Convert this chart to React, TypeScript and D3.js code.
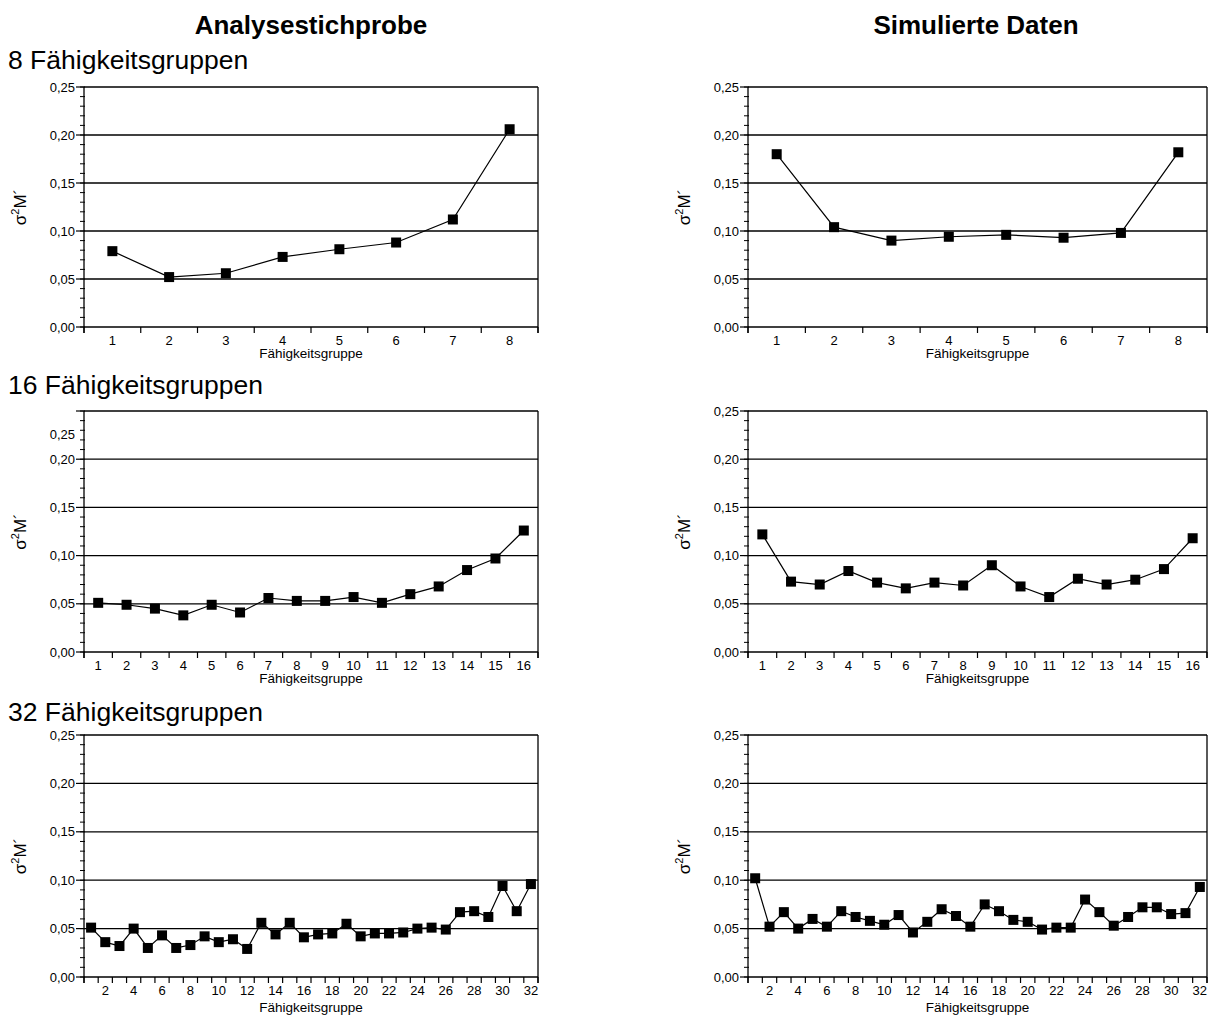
import React from "react";
import * as d3 from "d3";

const groups8 = [1, 2, 3, 4, 5, 6, 7, 8];
const groups16 = [1, 2, 3, 4, 5, 6, 7, 8, 9, 10, 11, 12, 13, 14, 15, 16];
const groups32 = [
  1, 2, 3, 4, 5, 6, 7, 8, 9, 10, 11, 12, 13, 14, 15, 16,
  17, 18, 19, 20, 21, 22, 23, 24, 25, 26, 27, 28, 29, 30, 31, 32,
];

const analyse8 = [0.079, 0.052, 0.056, 0.073, 0.081, 0.088, 0.112, 0.206];
const simul8 = [0.18, 0.104, 0.09, 0.094, 0.096, 0.093, 0.098, 0.182];

const analyse16 = [
  0.051, 0.049, 0.045, 0.038, 0.049, 0.041, 0.056, 0.053,
  0.053, 0.057, 0.051, 0.06, 0.068, 0.085, 0.097, 0.126,
];
const simul16 = [
  0.122, 0.073, 0.07, 0.084, 0.072, 0.066, 0.072, 0.069,
  0.09, 0.068, 0.057, 0.076, 0.07, 0.075, 0.086, 0.118,
];

const analyse32 = [
  0.051, 0.036, 0.032, 0.05, 0.03, 0.043, 0.03, 0.033,
  0.042, 0.036, 0.039, 0.029, 0.056, 0.044, 0.056, 0.041,
  0.044, 0.045, 0.055, 0.042, 0.045, 0.045, 0.046, 0.05,
  0.051, 0.049, 0.067, 0.068, 0.062, 0.094, 0.068, 0.096,
];
const simul32 = [
  0.102, 0.052, 0.067, 0.05, 0.06, 0.052, 0.068, 0.062,
  0.058, 0.054, 0.064, 0.046, 0.057, 0.07, 0.063, 0.052,
  0.075, 0.068, 0.059, 0.057, 0.049, 0.051, 0.051, 0.08,
  0.067, 0.053, 0.062, 0.072, 0.072, 0.065, 0.066, 0.093,
];

const yTicks = [0, 0.05, 0.1, 0.15, 0.2, 0.25];
const gridValues = [0.05, 0.1, 0.15, 0.2];
const columnTitles = ["Analysestichprobe", "Simulierte Daten"];
const rowTitles = ["8 Fähigkeitsgruppen", "16 Fähigkeitsgruppen", "32 Fähigkeitsgruppen"];
const xTitle = "Fähigkeitsgruppe";

const FONT = "'Liberation Sans', Arial, sans-serif";
const fmt = (v: number) => d3.format(".2f")(v).replace(".", ",");

type PanelProps = {
  groups: number[];
  values: number[];
  left: number;
  right: number;
  top: number;
  bottom: number;
  evenLabelsOnly?: boolean;
  topLabelDy?: number;
};

function Panel({ groups, values, left, right, top, bottom, evenLabelsOnly, topLabelDy = 0 }: PanelProps) {
  const x = d3.scaleBand<number>().domain(groups).range([left, right]).padding(0);
  const y = d3.scaleLinear().domain([0, 0.25]).range([bottom, top]);
  const minor = d3.range(0, 0.2501, 0.01);
  const cx = (g: number) => (x(g) as number) + x.bandwidth() / 2;
  const line = d3
    .line<number>()
    .x((_, i) => cx(groups[i]))
    .y((v) => y(v));
  const boundaries = groups.map((g) => x(g) as number).concat([right]);
  const labelY = bottom + 18;
  const titleY = evenLabelsOnly ? bottom + 35 : bottom + 31;
  const midY = (top + bottom) / 2;
  return (
    <g>
      {gridValues.map((v) => (
        <line key={"g" + v} x1={left} x2={right} y1={y(v)} y2={y(v)} stroke="#000" strokeWidth={1.3} />
      ))}
      <line x1={left} x2={right} y1={top} y2={top} stroke="#000" strokeWidth={1.3} />
      <line x1={right} x2={right} y1={top} y2={bottom + 6} stroke="#000" strokeWidth={1.3} />
      <line x1={left} x2={right} y1={bottom} y2={bottom} stroke="#000" strokeWidth={1.3} />
      <line x1={left} x2={left} y1={top} y2={bottom + 6} stroke="#000" strokeWidth={1.3} />
      {minor.map((v) => (
        <line key={"m" + v} x1={left - 4} x2={left + 1} y1={y(v)} y2={y(v)} stroke="#000" strokeWidth={1} />
      ))}
      {yTicks.map((v) => (
        <line key={"t" + v} x1={left - 8} x2={left} y1={y(v)} y2={y(v)} stroke="#000" strokeWidth={1.2} />
      ))}
      {yTicks.map((v, i) => (
        <text
          key={"l" + v}
          x={left - 9}
          y={y(v) + (i === yTicks.length - 1 ? topLabelDy : 0)}
          dy="0.35em"
          textAnchor="end"
          fontSize={13}
          fontFamily={FONT}
          fill="#000"
        >
          {fmt(v)}
        </text>
      ))}
      {boundaries.map((b, i) => (
        <line key={"b" + i} x1={b} x2={b} y1={bottom} y2={bottom + 6} stroke="#000" strokeWidth={1.2} />
      ))}
      {groups.map((g) =>
        evenLabelsOnly && g % 2 === 1 ? null : (
          <text
            key={"x" + g}
            x={cx(g)}
            y={labelY}
            textAnchor="middle"
            fontSize={13}
            fontFamily={FONT}
            fill="#000"
          >
            {g}
          </text>
        )
      )}
      <text x={(left + right) / 2} y={titleY} textAnchor="middle" fontSize={13.5} fontFamily={FONT} fill="#000">
        {xTitle}
      </text>
      <text
        transform={`translate(${left - 58},${midY}) rotate(-90)`}
        textAnchor="middle"
        fontSize={17}
        fontFamily={FONT}
        fill="#000"
      >
        σ<tspan dy="-7" fontSize={11}>2</tspan>
        <tspan dy="7">M´</tspan>
      </text>
      <path d={line(values) || ""} fill="none" stroke="#000" strokeWidth={1.2} />
      {values.map((v, i) => (
        <rect key={"p" + i} x={cx(groups[i]) - 5} y={y(v) - 5} width={10} height={10} fill="#000" />
      ))}
    </g>
  );
}

export default function App() {
  const cols = [
    { left: 84, right: 538 },
    { left: 748, right: 1207 },
  ];
  const rows = [
    { top: 87, bottom: 327 },
    { top: 411, bottom: 652 },
    { top: 735, bottom: 977 },
  ];
  return (
    <svg
      width={1209}
      height={1016}
      viewBox="0 0 1209 1016"
      style={{ position: "absolute", left: 0, top: 0, background: "#fff" }}
    >
      <rect width={1209} height={1016} fill="#fff" />
      <text x={311} y={34} textAnchor="middle" fontSize={26} fontWeight="bold" fontFamily={FONT}>
        {columnTitles[0]}
      </text>
      <text x={976} y={34} textAnchor="middle" fontSize={26} fontWeight="bold" fontFamily={FONT}>
        {columnTitles[1]}
      </text>
      {rowTitles.map((t, i) => (
        <text key={t} x={8} y={[69, 394, 721][i]} fontSize={26.5} fontFamily={FONT}>
          {t}
        </text>
      ))}
      <Panel groups={groups8} values={analyse8} {...cols[0]} {...rows[0]} />
      <Panel groups={groups8} values={simul8} {...cols[1]} {...rows[0]} />
      <Panel groups={groups16} values={analyse16} {...cols[0]} {...rows[1]} topLabelDy={23} />
      <Panel groups={groups16} values={simul16} {...cols[1]} {...rows[1]} />
      <Panel groups={groups32} values={analyse32} {...cols[0]} {...rows[2]} evenLabelsOnly />
      <Panel groups={groups32} values={simul32} {...cols[1]} {...rows[2]} evenLabelsOnly />
    </svg>
  );
}
